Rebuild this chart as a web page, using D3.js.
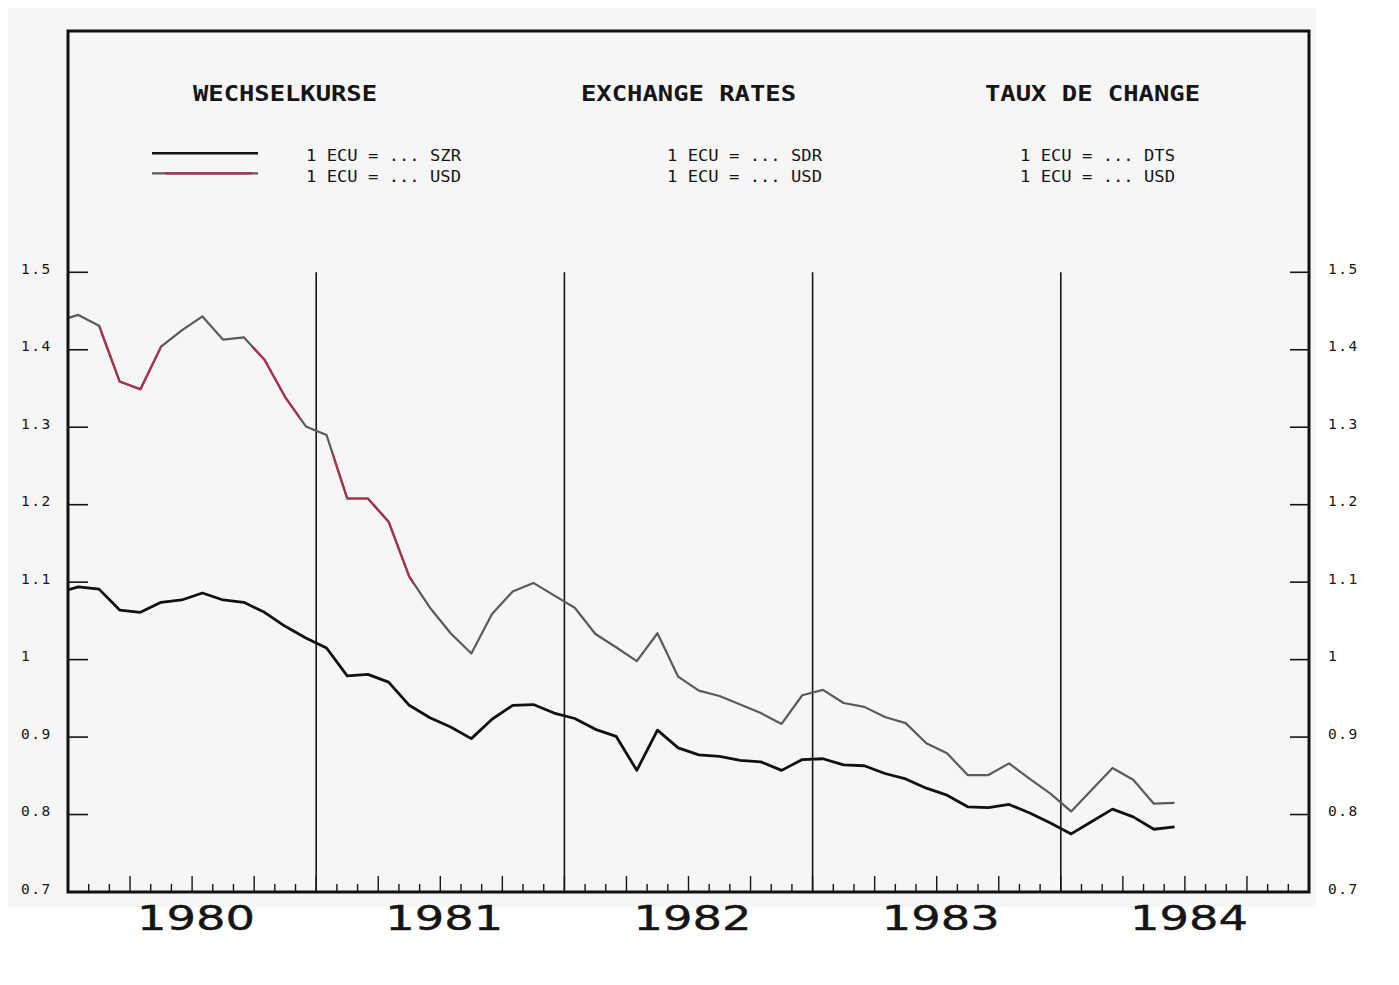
<!DOCTYPE html>
<html>
<head>
<meta charset="utf-8">
<style>
  body { margin: 0; background: #fff; }
  svg { display: block; }
  .mono { font-family: 'DejaVu Sans Mono', monospace; fill: #151515; }
</style>
</head>
<body>
<svg width="1399" height="985"></svg>
<script src="https://d3js.org/d3.v7.min.js"></script>
<script>
// monthly averages, index 0 = Jan 1980; the series start one month earlier (Dec 1979)
const firstMonth = -1;

// 1 ECU = ... SDR
const sdr = [1.086, 1.094, 1.091, 1.064, 1.061, 1.074, 1.077, 1.086, 1.077, 1.074, 1.061, 1.043, 1.028,
  1.015, 0.979, 0.981, 0.971, 0.941, 0.925, 0.913, 0.898, 0.923, 0.941, 0.942, 0.931,
  0.924, 0.910, 0.901, 0.857, 0.909, 0.886, 0.877, 0.875, 0.870, 0.868, 0.857, 0.871,
  0.872, 0.864, 0.863, 0.853, 0.846, 0.834, 0.825, 0.810, 0.809, 0.813, 0.802, 0.789,
  0.775, 0.791, 0.807, 0.797, 0.781, 0.784];

// 1 ECU = ... USD
const usd = [1.437, 1.445, 1.431, 1.359, 1.349, 1.404, 1.425, 1.443, 1.413, 1.416, 1.387, 1.339, 1.301,
  1.290, 1.208, 1.208, 1.178, 1.107, 1.067, 1.034, 1.008, 1.059, 1.088, 1.099, 1.083,
  1.067, 1.033, 1.016, 0.998, 1.034, 0.978, 0.960, 0.953, 0.942, 0.931, 0.917, 0.954,
  0.961, 0.944, 0.939, 0.926, 0.918, 0.892, 0.879, 0.851, 0.851, 0.866, 0.846, 0.827,
  0.804, 0.832, 0.860, 0.845, 0.814, 0.815];

const years = ["1980", "1981", "1982", "1983", "1984"];
const yTicks = [0.7, 0.8, 0.9, 1.0, 1.1, 1.2, 1.3, 1.4, 1.5];
const yTickLabels = ["0.7", "0.8", "0.9", "1", "1.1", "1.2", "1.3", "1.4", "1.5"];

const titles = ["WECHSELKURSE", "EXCHANGE RATES", "TAUX DE CHANGE"];
const legendSdr = ["1 ECU = ... SZR", "1 ECU = ... SDR", "1 ECU = ... DTS"];
const legendUsd = ["1 ECU = ... USD", "1 ECU = ... USD", "1 ECU = ... USD"];

// parts of the USD curve that came out red in the print (in months)
const redSpans = [[1.55, 4.5], [8.9, 11.2], [12.8, 16.7]];
const red = "#ad2f50";
const grey = "#5a5a5a";

const svg = d3.select("svg");
const plotL = 68, plotR = 1309, plotT = 31, plotB = 892;

let x = d3.scaleLinear().domain([0, 60]).range([plotL, plotR]);
let y = d3.scaleLinear().domain([0.7, 1.5]).range([plotB, 272.3]);

// paper
svg.append("rect").attr("x", 8).attr("y", 8).attr("width", 1308).attr("height", 899).attr("fill", "#f6f6f6");

let defs = svg.append("defs");
defs.append("clipPath").attr("id", "plot")
  .append("rect").attr("x", plotL).attr("y", plotT).attr("width", plotR - plotL).attr("height", plotB - plotT);

redSpans.forEach((s, i) => {
  defs.append("clipPath").attr("id", "red" + i)
    .append("rect").attr("x", x(s[0])).attr("y", plotT).attr("width", x(s[1]) - x(s[0])).attr("height", plotB - plotT);
});

// year separators
svg.append("g").selectAll("line")
  .data([12, 24, 36, 48])
  .join("line")
  .attr("x1", d => x(d)).attr("x2", d => x(d))
  .attr("y1", y(1.5)).attr("y2", plotB)
  .attr("stroke", "#151515").attr("stroke-width", 1.6);

// month ticks on the bottom axis
svg.append("g").selectAll("line")
  .data(d3.range(1, 60))
  .join("line")
  .attr("x1", d => x(d)).attr("x2", d => x(d))
  .attr("y1", plotB).attr("y2", d => plotB - (d % 3 === 0 ? 16 : 8))
  .attr("stroke", "#151515").attr("stroke-width", 1.4);

// value ticks, both sides
let vt = yTicks.filter(d => d > 0.7);
svg.append("g").selectAll("line")
  .data(vt)
  .join("line")
  .attr("x1", plotL).attr("x2", plotL + 20)
  .attr("y1", d => y(d)).attr("y2", d => y(d))
  .attr("stroke", "#151515").attr("stroke-width", 1.6);
svg.append("g").selectAll("line")
  .data(vt)
  .join("line")
  .attr("x1", plotR - 19).attr("x2", plotR)
  .attr("y1", d => y(d)).attr("y2", d => y(d))
  .attr("stroke", "#151515").attr("stroke-width", 1.6);

[21, 1328].forEach(lx => {
  svg.append("g").selectAll("text")
    .data(yTicks)
    .join("text")
    .attr("class", "mono")
    .attr("x", lx)
    .attr("y", d => y(d) + 1.5)
    .style("font-size", "14.5px")
    .style("letter-spacing", "1.5px")
    .text((d, i) => yTickLabels[i]);
});

// year labels
svg.append("g").selectAll("text")
  .data(years)
  .join("text")
  .attr("x", (d, i) => x(12 * i + 6) + 4)
  .attr("y", 929.5)
  .attr("text-anchor", "middle")
  .attr("textLength", 118)
  .attr("lengthAdjust", "spacingAndGlyphs")
  .style("font-family", "'DejaVu Sans', sans-serif")
  .style("font-size", "33px")
  .style("fill", "#151515")
  .style("stroke", "#151515")
  .style("stroke-width", 0.4)
  .text(d => d);

// curves
let line = d3.line()
  .x((d, i) => x(firstMonth + i + 0.5))
  .y(d => y(d));

let curves = svg.append("g").attr("clip-path", "url(#plot)");

curves.append("path")
  .attr("d", line(usd))
  .attr("fill", "none").attr("stroke", grey).attr("stroke-width", 2.2)
  .attr("stroke-linejoin", "round");

redSpans.forEach((s, i) => {
  curves.append("path")
    .attr("d", line(usd))
    .attr("clip-path", "url(#red" + i + ")")
    .attr("fill", "none").attr("stroke", red).attr("stroke-width", 2.2)
    .attr("stroke-linejoin", "round");
});

curves.append("path")
  .attr("d", line(sdr))
  .attr("fill", "none").attr("stroke", "#111").attr("stroke-width", 2.8)
  .attr("stroke-linejoin", "round");

// frame
svg.append("rect")
  .attr("x", plotL).attr("y", plotT).attr("width", plotR - plotL).attr("height", plotB - plotT)
  .attr("fill", "none").attr("stroke", "#111").attr("stroke-width", 3);

// titles
let titleX = [285, 688.5, 1092.5];
let titleW = [184, 215, 215];
svg.append("g").selectAll("text")
  .data(titles)
  .join("text")
  .attr("class", "mono")
  .attr("x", (d, i) => titleX[i])
  .attr("y", 101)
  .attr("text-anchor", "middle")
  .attr("textLength", (d, i) => titleW[i])
  .attr("lengthAdjust", "spacingAndGlyphs")
  .style("font-size", "21px")
  .style("font-weight", "bold")
  .text(d => d);

// legend
svg.append("line").attr("x1", 152).attr("x2", 258).attr("y1", 153.3).attr("y2", 153.3)
  .attr("stroke", "#111").attr("stroke-width", 2.6);
svg.append("line").attr("x1", 152).attr("x2", 258).attr("y1", 173.3).attr("y2", 173.3)
  .attr("stroke", grey).attr("stroke-width", 2.2);
svg.append("line").attr("x1", 165).attr("x2", 252).attr("y1", 173.3).attr("y2", 173.3)
  .attr("stroke", red).attr("stroke-width", 2.2);

let legX = [306, 667, 1020];
[[legendSdr, 161], [legendUsd, 181.5]].forEach(([labels, ly]) => {
  svg.append("g").selectAll("text")
    .data(labels)
    .join("text")
    .attr("class", "mono")
    .attr("x", (d, i) => legX[i])
    .attr("y", ly)
    .attr("textLength", 155)
    .attr("lengthAdjust", "spacingAndGlyphs")
    .style("font-size", "16px")
    .text(d => d);
});
</script>
</body>
</html>
